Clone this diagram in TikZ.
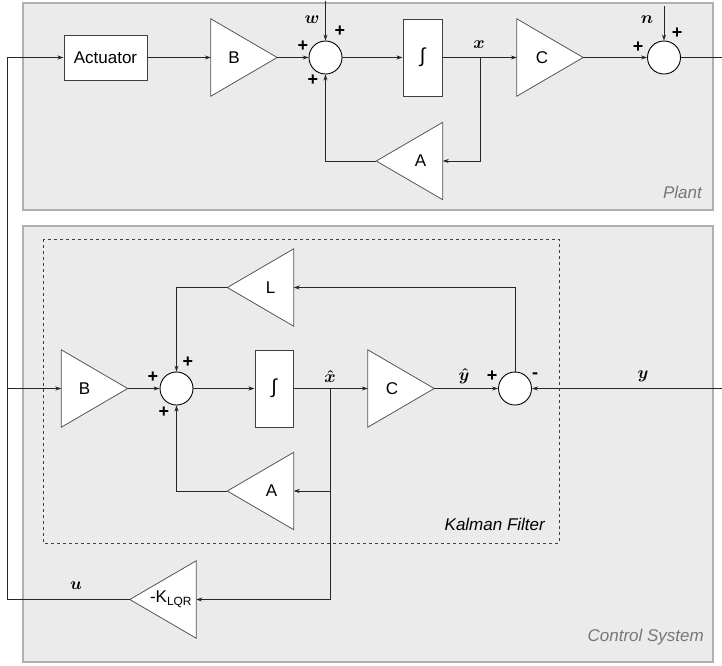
\documentclass[tikz,border=0pt]{standalone}
\usepackage{amsmath,bm}
\usepackage{fontspec}
\setmainfont{Liberation Sans}
\usetikzlibrary{arrows.meta,calc}
\definecolor{panelfill}{HTML}{EBEBEB}
\definecolor{panelline}{HTML}{B0B0B0}
\definecolor{triline}{HTML}{555555}
\definecolor{labgray}{HTML}{777777}
\tikzset{
  lbl/.style={font=\fontsize{17}{20}\selectfont, inner sep=0pt},
  sgn/.style={font=\bfseries\fontsize{18}{20}\selectfont, inner sep=0pt},
  mlab/.style={font=\fontsize{17}{20}\selectfont\boldmath, inner sep=0pt},
  ital/.style={font=\itshape\fontsize{17}{20}\selectfont, inner sep=0pt},
  panel/.style={fill=panelfill, draw=panelline, line width=1.2pt},
  blockbox/.style={draw=black!75, fill=white, line width=1pt, inner sep=0pt},
  tribox/.style={minimum width=66pt, minimum height=77pt, inner sep=0pt},
  tri/.style={draw=triline, fill=white, line width=0.8pt, line join=miter},
  sumc/.style={circle, draw=black, fill=white, line width=0.9pt, minimum size=33pt, inner sep=0pt},
  conn/.style={line width=0.9pt, draw=black!85},
  arr/.style={conn, -{Stealth[length=6pt,width=4pt]}},
}
\begin{document}
\begin{tikzpicture}[x=1pt,y=-1pt]
\useasboundingbox (0,0) rectangle (722,665);
% panels
\draw[panel] (23,3) rectangle (713,210);
\draw[panel] (23,226) rectangle (713,662);
\draw[dashed, dash pattern=on 3pt off 3pt, line width=1pt, draw=black!75] (43,239) rectangle (559,543);

% ---- Plant ----
\node[blockbox, minimum width=83pt, minimum height=45pt, lbl] (act) at (105.5,57.5) {Actuator};
\node[tribox] (B1) at (244,57.5) {};
\filldraw[tri] (B1.north west) -- (B1.east) -- (B1.south west) -- cycle;
\node[lbl] at ([xshift=-10pt]B1.center) {B};
\node[sumc] (S1) at (325.5,57.5) {};
\node[blockbox, minimum width=39pt, minimum height=77pt, font=\fontsize{20}{22}\selectfont] (I1) at (422.5,57.5) {∫};
\node[tribox] (C1) at (550,57.5) {};
\filldraw[tri] (C1.north west) -- (C1.east) -- (C1.south west) -- cycle;
\node[lbl] at ([xshift=-8pt]C1.center) {C};
\node[sumc] (S2) at (664,57.5) {};
\node[tribox] (A1) at (409.5,161) {};
\filldraw[tri] (A1.north east) -- (A1.west) -- (A1.south east) -- cycle;
\node[lbl] at ([xshift=11pt]A1.center) {A};

\coordinate (wtop) at (325.5,1);
\coordinate (ntop) at (664,6);
\coordinate (yout) at (722,57.5);
\coordinate (xb) at (480,57.5);

\draw[arr] (act.east) -- (B1.west);
\draw[arr] (B1.east) -- (S1.west);
\draw[arr] (wtop) -- (S1.north);
\draw[arr] (S1.east) -- (I1.west);
\draw[arr] (I1.east) -- (C1.west);
\draw[arr] (C1.east) -- (S2.west);
\draw[arr] (ntop) -- (S2.north);
\draw[conn] (S2.east) -- (yout);
\draw[arr] (xb) |- (A1.east);
\draw[arr] (A1.west) -| (S1.south);

\node[mlab] (wl) at (312,20) {$\bm{w}$};
\node[sgn] at (340,31) {+};
\node[sgn] at (303,46) {+};
\node[sgn] at (313,80) {+};
\node[mlab] (xl) at (479,45) {$\bm{x}$};
\node[mlab] (nl) at (647,20) {$\bm{n}$};
\node[sgn] at (677,33) {+};
\node[sgn] at (638,47) {+};
\node[ital, text=labgray, anchor=east] (plant) at (702,192) {Plant};

% ---- Control system ----
\node[tribox] (L) at (260.5,287.5) {};
\filldraw[tri] (L.north east) -- (L.west) -- (L.south east) -- cycle;
\node[lbl] at ([xshift=10pt]L.center) {L};
\node[tribox] (B2) at (94.5,388.5) {};
\filldraw[tri] (B2.north west) -- (B2.east) -- (B2.south west) -- cycle;
\node[lbl] at ([xshift=-10pt]B2.center) {B};
\node[sumc] (S3) at (176.5,388.5) {};
\node[blockbox, minimum width=38pt, minimum height=77pt, font=\fontsize{20}{22}\selectfont] (I2) at (274,388.5) {∫};
\node[tribox] (C2) at (401,388.5) {};
\filldraw[tri] (C2.north west) -- (C2.east) -- (C2.south west) -- cycle;
\node[lbl] at ([xshift=-9pt]C2.center) {C};
\node[sumc] (S4) at (515,388.5) {};
\node[tribox] (A2) at (260.5,491) {};
\filldraw[tri] (A2.north east) -- (A2.west) -- (A2.south east) -- cycle;
\node[lbl] at ([xshift=11pt]A2.center) {A};
\node[tribox] (K) at (163,599.5) {};
\filldraw[tri] (K.north east) -- (K.west) -- (K.south east) -- cycle;
\node[lbl] at ([xshift=8pt]K.center) {-K\textsubscript{LQR}};

\coordinate (lc) at (7,599.5);
\coordinate (yin) at (722,388.5);
\coordinate (xhb) at (330,388.5);

\draw[arr] (K.west) -- (lc) |- (act.west);
\draw[arr] (B2.west -| lc) -- (B2.west);
\draw[arr] (B2.east) -- (S3.west);
\draw[arr] (S3.east) -- (I2.west);
\draw[arr] (I2.east) -- (C2.west);
\draw[arr] (C2.east) -- (S4.west);
\draw[arr] (yin) -- (S4.east);
\draw[arr] (S4.north) |- (L.east);
\draw[arr] (L.west) -| (S3.north);
\draw[arr] (xhb) |- (A2.east);
\draw[arr] (xhb) |- (K.east);
\draw[arr] (A2.west) -| (S3.south);

\node[sgn] at (188,362) {+};
\node[sgn] at (153,377) {+};
\node[sgn] at (164,412) {+};
\node[mlab] at (330,376) {$\hat{\bm{x}}$};
\node[mlab] at (464,376) {$\hat{\bm{y}}$};
\node[sgn] at (492,376) {+};
\node[sgn] at (535,376) {-};
\node[mlab] at (643,376) {$\bm{y}$};
\node[mlab] at (76,586) {$\bm{u}$};
\node[ital, anchor=east] (kf) at (545,524) {Kalman Filter};
\node[ital, text=labgray, anchor=east] (cs) at (704,637) {Control System};
\end{tikzpicture}
\end{document}
